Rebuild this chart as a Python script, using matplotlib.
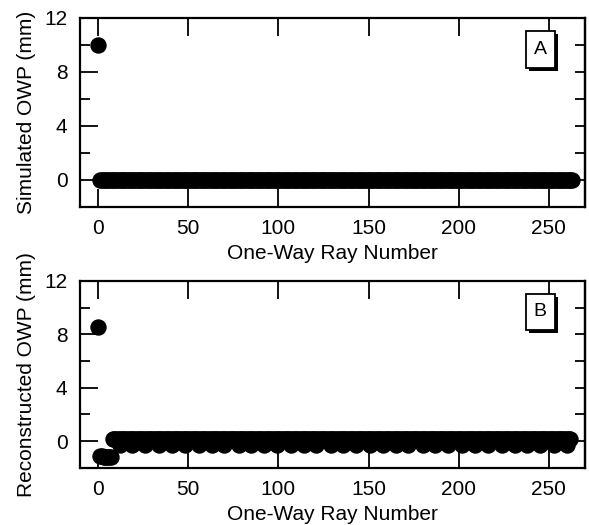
import matplotlib
matplotlib.use("Agg")
import matplotlib.pyplot as plt
import matplotlib.patheffects as pe
from matplotlib.patches import Rectangle
from matplotlib.ticker import MultipleLocator
import numpy as np

plt.rcParams['font.family'] = ['Liberation Sans', 'DejaVu Sans']

# panel A: simulated one-way perturbation
sim_spike_ray = [0]
sim_spike_val = [10.0]
sim_base_first, sim_base_last = 1, 263
sim_base_val = 0.0

# panel B: reconstructed one-way perturbation
rec_spike_ray = [0]
rec_spike_val = [8.55]
rec_neg_ray = [1, 2, 3, 4, 5, 6, 7]
rec_neg_val = [-1.15, -1.1, -1.2, -1.2, -1.2, -1.2, -1.2]
rec_base_first, rec_base_last = 8, 262
rec_base_val = 0.12
# rays that sit slightly under zero (the scalloped lower edge)
rec_dip_ray = [12, 19, 26, 34, 41, 48, 56, 63, 70, 78, 85, 92, 99, 107, 114,
               121, 129, 136, 143, 151, 158, 165, 172, 180, 187, 194, 202,
               209, 216, 224, 231, 238, 245, 253, 260]
rec_dip_val = -0.3

x_ticks = [0, 50, 100, 150, 200, 250]
y_ticks = [0, 4, 8, 12]

FS = 15
MS = 10.8


def style_axes(ax, ylabel, tag):
    ax.set_xlim(-10, 270)
    ax.set_ylim(-2, 12)
    ax.set_xticks(x_ticks)
    ax.set_yticks(y_ticks)
    ax.yaxis.set_minor_locator(MultipleLocator(2))
    for s in ax.spines.values():
        s.set_linewidth(1.6)
    ax.tick_params(axis='x', which='major', direction='in', top=True, bottom=True,
                   length=13, width=1.3, labelsize=FS, pad=9)
    ax.tick_params(axis='y', which='major', direction='in', left=True, right=False,
                   length=13, width=1.3, labelsize=FS, pad=9)
    ax.tick_params(axis='y', which='minor', direction='in', left=True, right=False,
                   length=7, width=1.3)
    sec = ax.secondary_yaxis('right')
    sec.set_yticks(np.arange(-2, 13, 2))
    sec.tick_params(direction='in', length=7, width=1.3, labelright=False)
    sec.spines['right'].set_linewidth(1.6)
    ax.set_xlabel('One-Way Ray Number', fontsize=FS, labelpad=4)
    ax.set_ylabel(ylabel, fontsize=FS, labelpad=6)
    # panel tag in a box with a drop shadow
    box = Rectangle((0.883, 0.736), 0.057, 0.196, transform=ax.transAxes,
                    fc='white', ec='black', lw=1.3, zorder=5)
    box.set_path_effects([
        pe.SimplePatchShadow(offset=(2.2, -2.2), shadow_rgbFace='black', alpha=1.0),
        pe.Normal()])
    ax.add_patch(box)
    ax.text(0.9115, 0.834, tag, transform=ax.transAxes, fontsize=14,
            ha='center', va='center', zorder=6)


fig = plt.figure(figsize=(5.89, 5.25), dpi=100)
ax1 = fig.add_axes([0.136, 0.606, 0.857, 0.360])
ax2 = fig.add_axes([0.136, 0.109, 0.857, 0.356])

mk = dict(marker='o', ms=MS, color='black', ls='none')

sim_base_ray = np.arange(sim_base_first, sim_base_last + 1)
ax1.plot(sim_base_ray, np.full(len(sim_base_ray), sim_base_val), **mk)
ax1.plot(sim_spike_ray, sim_spike_val, **mk)
style_axes(ax1, 'Simulated OWP (mm)', 'A')

rec_base_ray = np.arange(rec_base_first, rec_base_last + 1)
ax2.plot(rec_base_ray, np.full(len(rec_base_ray), rec_base_val), **mk)
ax2.plot(rec_dip_ray, np.full(len(rec_dip_ray), rec_dip_val), **mk)
ax2.plot(rec_neg_ray, rec_neg_val, **mk)
ax2.plot(rec_spike_ray, rec_spike_val, **mk)
style_axes(ax2, 'Reconstructed OWP (mm)', 'B')

fig.savefig('out.png', dpi=100)
